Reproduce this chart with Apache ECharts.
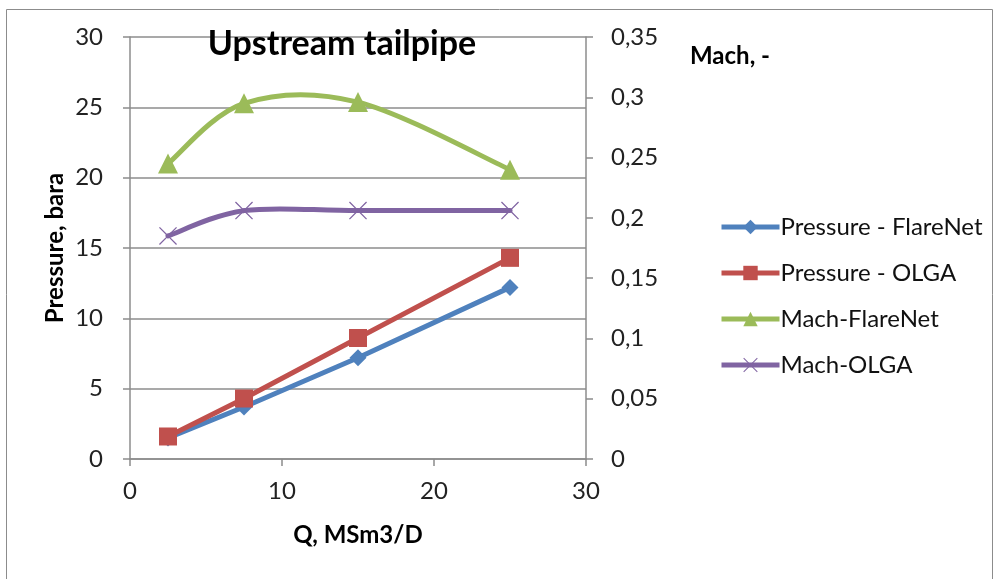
<!DOCTYPE html>
<html>
<head>
<meta charset="utf-8">
<script src="https://cdn.jsdelivr.net/npm/echarts@6/dist/echarts.min.js"></script>
<style>
  html, body { margin: 0; padding: 0; background: #fff; }
  #chart { width: 995px; height: 579px; }
</style>
</head>
<body>
<div id="chart"></div>
<script>
// Flow rate, MSm3/D
const qValues = [2.5, 7.5, 15, 25];
// Pressure, bara
const pressureFlareNet = [1.5, 3.7, 7.2, 12.2];
const pressureOlga = [1.6, 4.3, 8.6, 14.3];
// Mach number
const machFlareNet = [0.245, 0.295, 0.296, 0.240];
const machOlga = [0.185, 0.206, 0.206, 0.206];

const pressureTicks = [0, 5, 10, 15, 20, 25, 30];
const machTicks = [0, 0.05, 0.1, 0.15, 0.2, 0.25, 0.3, 0.35];

const COLORS = {
  pFlare: '#4F81BD',
  pOlga: '#C0504D',
  mFlare: '#9BBB59',
  mOlga: '#8064A2'
};

const pairs = (ys) => qValues.map((q, i) => [q, ys[i]]);

const FONT = 'Lato, "Open Sans", sans-serif';
const AXIS_GRAY = '#8c8c8c';
const LINE_W = 5;
const crossPath = 'path://M0,1L1,0L10,9L19,0L20,1L11,10L20,19L19,20L10,11L1,20L0,19L9,10Z';

// Smooth curve through the points (cardinal spline, tangent = (next - prev) / 6),
// drawn as one cubic Bezier segment per data interval.
function smoothCurve(ys, color) {
  return function (params, api) {
    const i = params.dataIndex;
    if (i >= qValues.length - 1) return null;
    const pts = qValues.map((q, k) => api.coord([q, ys[k]]));
    const p0 = pts[Math.max(i - 1, 0)];
    const p1 = pts[i];
    const p2 = pts[i + 1];
    const p3 = pts[Math.min(i + 2, pts.length - 1)];
    return {
      type: 'bezierCurve',
      shape: {
        x1: p1[0], y1: p1[1],
        x2: p2[0], y2: p2[1],
        cpx1: p1[0] + (p2[0] - p0[0]) / 6,
        cpy1: p1[1] + (p2[1] - p0[1]) / 6,
        cpx2: p2[0] - (p3[0] - p1[0]) / 6,
        cpy2: p2[1] - (p3[1] - p1[1]) / 6
      },
      style: { stroke: color, lineWidth: LINE_W, fill: null, lineCap: 'round' }
    };
  };
}

const chart = echarts.init(document.getElementById('chart'), null, { renderer: 'canvas' });

const labelStyle = { color: '#222', fontSize: 24, fontFamily: FONT };
const nameStyle = { fontFamily: FONT, fontWeight: 'bold', fontSize: 24, color: '#000' };

chart.setOption({
  animation: false,
  backgroundColor: '#fff',
  title: {
    text: 'Upstream tailpipe',
    left: 337,
    top: 22,
    textAlign: 'center',
    textStyle: { fontFamily: FONT, fontWeight: 'bold', fontSize: 34, color: '#000' }
  },
  graphic: [{
    type: 'rect',
    shape: { x: 6.5, y: 9.5, width: 986, height: 600 },
    style: { fill: 'none', stroke: '#8c8c8c', lineWidth: 1 },
    silent: true,
    z: -10
  }, {
    type: 'text',
    left: 690,
    top: 44,
    style: { text: 'Mach, -', fontFamily: FONT, fontWeight: 'bold', fontSize: 24, fill: '#000' }
  }],
  legend: {
    orient: 'vertical',
    left: 714,
    top: 210,
    itemWidth: 58,
    itemHeight: 18,
    itemGap: 22,
    lineStyle: { width: LINE_W },
    textStyle: { fontFamily: FONT, fontSize: 24, color: '#111', padding: [0, 0, 0, -4] },
    data: [
      { name: 'Pressure - FlareNet' },
      { name: 'Pressure - OLGA' },
      { name: 'Mach-FlareNet', lineStyle: { color: COLORS.mFlare, opacity: 1, width: LINE_W } },
      { name: 'Mach-OLGA', lineStyle: { color: COLORS.mOlga, opacity: 1, width: LINE_W } }
    ]
  },
  grid: { left: 130, right: 409, top: 37, bottom: 120, containLabel: false },
  xAxis: {
    type: 'value',
    min: 0, max: 30, interval: 10,
    name: 'Q, MSm3/D',
    nameLocation: 'middle',
    nameGap: 64,
    nameTextStyle: nameStyle,
    axisLine: { show: true, lineStyle: { color: AXIS_GRAY, width: 1.5 } },
    axisTick: { show: true, length: 7, lineStyle: { color: AXIS_GRAY, width: 1.5 } },
    axisLabel: Object.assign({ margin: 20 }, labelStyle),
    splitLine: { show: false }
  },
  yAxis: [{
    type: 'value',
    position: 'left',
    min: 0, max: 30, interval: 5,
    name: 'Pressure, bara',
    nameLocation: 'middle',
    nameGap: 63,
    nameRotate: 90,
    nameTextStyle: nameStyle,
    axisLine: { show: true, lineStyle: { color: AXIS_GRAY, width: 1.5 } },
    axisTick: { show: true, length: 7, lineStyle: { color: AXIS_GRAY, width: 1.5 } },
    axisLabel: Object.assign({
      margin: 27,
      formatter: (v) => String(pressureTicks.find((t) => Math.abs(t - v) < 1e-9) ?? v)
    }, labelStyle),
    splitLine: { show: true, lineStyle: { color: AXIS_GRAY, width: 1.5 } }
  }, {
    type: 'value',
    position: 'right',
    min: 0, max: 0.35, interval: 0.05,
    axisLine: { show: true, lineStyle: { color: AXIS_GRAY, width: 1.5 } },
    axisTick: { show: true, length: 7, lineStyle: { color: AXIS_GRAY, width: 1.5 } },
    axisLabel: Object.assign({
      margin: 25,
      formatter: (v) => {
        const t = machTicks.find((m) => Math.abs(m - v) < 1e-9);
        return String(t ?? v).replace('.', ',');
      }
    }, labelStyle),
    splitLine: { show: false }
  }],
  series: [{
    name: 'Pressure - FlareNet',
    type: 'line',
    yAxisIndex: 0,
    data: pairs(pressureFlareNet),
    symbol: 'diamond',
    symbolSize: 17,
    lineStyle: { color: COLORS.pFlare, width: LINE_W },
    itemStyle: { color: COLORS.pFlare },
    z: 2
  }, {
    name: 'Pressure - OLGA',
    type: 'line',
    yAxisIndex: 0,
    data: pairs(pressureOlga),
    symbol: 'rect',
    symbolSize: 18,
    lineStyle: { color: COLORS.pOlga, width: LINE_W },
    itemStyle: { color: COLORS.pOlga },
    z: 3
  }, {
    // markers of the Mach series; the curve itself is drawn by the custom series below
    name: 'Mach-FlareNet',
    type: 'line',
    yAxisIndex: 1,
    data: pairs(machFlareNet),
    symbol: 'triangle',
    symbolSize: 20,
    lineStyle: { color: COLORS.mFlare, width: LINE_W, opacity: 0 },
    itemStyle: { color: COLORS.mFlare },
    z: 5
  }, {
    name: 'Mach-OLGA',
    type: 'line',
    yAxisIndex: 1,
    data: pairs(machOlga),
    symbol: crossPath,
    symbolSize: 18,
    lineStyle: { color: COLORS.mOlga, width: LINE_W, opacity: 0 },
    itemStyle: { color: COLORS.mOlga },
    z: 5
  }, {
    name: 'Mach-FlareNet',
    type: 'custom',
    coordinateSystem: 'cartesian2d',
    yAxisIndex: 1,
    data: pairs(machFlareNet),
    renderItem: smoothCurve(machFlareNet, COLORS.mFlare),
    itemStyle: { color: COLORS.mFlare },
    z: 4
  }, {
    name: 'Mach-OLGA',
    type: 'custom',
    coordinateSystem: 'cartesian2d',
    yAxisIndex: 1,
    data: pairs(machOlga),
    renderItem: smoothCurve(machOlga, COLORS.mOlga),
    itemStyle: { color: COLORS.mOlga },
    z: 4
  }]
});
</script>
</body>
</html>
